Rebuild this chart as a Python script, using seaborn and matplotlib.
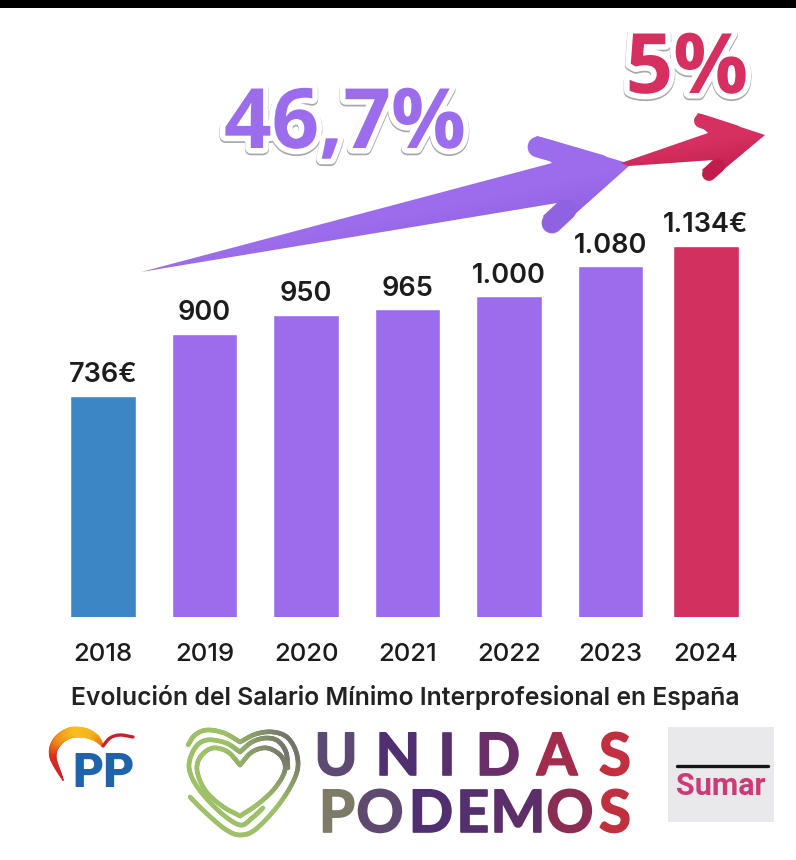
import matplotlib
matplotlib.use('Agg')
import matplotlib.pyplot as plt
import matplotlib.patheffects as pe
from matplotlib.patches import Polygon, Rectangle
import numpy as np
import seaborn as sns

# Salario minimo data
years = ['2018', '2019', '2020', '2021', '2022', '2023', '2024']
salary = [736, 900, 950, 965, 1000, 1080, 1134]
salary_labels = ['736€', '900', '950', '965', '1.000', '1.080', '1.134€']
bar_colors = ['#3d86c6', '#9b6ded', '#9b6ded', '#9b6ded', '#9b6ded', '#9b6ded', '#d2305e']
title = 'Evolución del Salario Mínimo Interprofesional en España'

PURPLE = '#9b6ded'
RED = '#d5305f'
W, H = 796, 860

sns.set_theme(style='white')
plt.rcParams['font.family'] = ['Inter', 'DejaVu Sans']

fig = plt.figure(figsize=(W / 100, H / 100), dpi=100, facecolor='white')

# Bars, placed so that the axis pixels line up with the picture
left, right, top, bottom = 52.25, 762.75, 200, 617
ax = fig.add_axes([left / W, 1 - bottom / H, (right - left) / W, (bottom - top) / H])
sns.barplot(x=years, y=salary, hue=years, palette=bar_colors, legend=False,
            width=0.645, saturation=1, ax=ax)
ax.set_xlim(-0.5, 6.5)
ax.set_ylim(146.4, 1256.4)
ax.patch.set_alpha(0)
sns.despine(ax=ax, left=True, bottom=True)
ax.set_yticks([])
ax.set_ylabel('')
ax.set_xlabel('')

# last bar sits a bit closer to its neighbour in the original
last_shift = -0.06
ax.patches[6].set_x(ax.patches[6].get_x() + last_shift)

for i, cont in enumerate(ax.containers):
    ax.bar_label(cont, labels=[salary_labels[i]], padding=5.5, fontsize=19.5,
                 fontweight='semibold', color='#1c1c1c')

ax.set_xticks([0, 1, 2, 3, 4, 5, 6 + last_shift])
ax.set_xticklabels(years, fontsize=18.5, fontweight='medium', color='#1c1c1c')
ax.tick_params(axis='x', length=0, pad=18.5)

# Everything else is drawn in pixel coordinates
ov = fig.add_axes([0, 0, 1, 1], zorder=5)
ov.set_xlim(0, W)
ov.set_ylim(H, 0)
ov.axis('off')
ov.patch.set_alpha(0)

ov.add_patch(Rectangle((0, 0), W, 8, color='black', lw=0))
ov.text(405, 697, title, ha='center', va='center', fontsize=17.8, fontweight='semibold',
        color='#222222')


def smooth(pts, n=14, closed=False):
    # catmull-rom through the given points
    p = np.array(pts, dtype=float)
    if closed:
        p = np.vstack([p[-1], p, p[0], p[1]])
    else:
        p = np.vstack([2 * p[0] - p[1], p, 2 * p[-1] - p[-2]])
    out = []
    for i in range(1, len(p) - 2):
        for t in np.linspace(0, 1, n, endpoint=False):
            out.append(0.5 * (2 * p[i] + (p[i + 1] - p[i - 1]) * t
                              + (2 * p[i - 1] - 5 * p[i] + 4 * p[i + 1] - p[i + 2]) * t ** 2
                              + (3 * p[i] - p[i - 1] - 3 * p[i + 1] + p[i + 2]) * t ** 3))
    out.append(p[-2])
    return np.array(out)


def shade(poly, p0, p1, depth, color, strength):
    # soft darker edge on one side of the line p0-p1, clipped to the arrow
    yy, xx = np.mgrid[0:H, 0:W]
    d = np.array(p1, dtype=float) - p0
    d = d / np.hypot(*d)
    dist = (xx - p0[0]) * (-d[1]) + (yy - p0[1]) * d[0]
    rgba = np.zeros((H, W, 4))
    rgba[..., :3] = matplotlib.colors.to_rgb(color)
    rgba[..., 3] = np.clip(dist / depth, 0, 1) * strength
    im = ov.imshow(rgba, extent=(0, W, H, 0), aspect='auto', interpolation='bilinear', zorder=3)
    im.set_clip_path(poly)
    ov.set_xlim(0, W)
    ov.set_ylim(H, 0)


# Arrows
purple_arrow = [(141, 272), (552, 163), (529, 142), (537, 136), (624, 162), (629, 166),
                (556, 231), (543, 216), (557, 203)]
purple_patch = Polygon(purple_arrow, closed=True, facecolor=PURPLE, edgecolor='none', zorder=2)
ov.add_patch(purple_patch)
ov.plot([538, 600], [147, 165], color=PURPLE, lw=15, solid_capstyle='round', zorder=2)
shade(purple_patch, (141, 272), (629, 166), 45, '#7a4bd0', 0.4)
ov.plot([552, 566], [223, 210], color='#8f62e2', lw=15, solid_capstyle='round', zorder=3.5)

red_arrow = [(621, 163), (708, 133), (694, 120), (698, 113), (765, 135), (711, 180), (702, 170),
             (713, 160), (628, 166)]
red_patch = Polygon(red_arrow, closed=True, facecolor=RED, edgecolor='none', zorder=2)
ov.add_patch(red_patch)
ov.plot([701, 735], [121, 132], color=RED, lw=10, solid_capstyle='round', zorder=2)
shade(red_patch, (640, 152), (765, 132), 40, '#b01040', 0.6)
ov.plot([709, 718], [174, 166], color='#c01c4c', lw=10, solid_capstyle='round', zorder=3.5)

# Big percentages with a sticker outline
sticker = [pe.Stroke(linewidth=8.5, foreground='#a8a8a8', offset=(0, -1)),
           pe.Stroke(linewidth=8, foreground='white'),
           pe.Normal()]
ov.text(345, 148, '46,7%', ha='center', va='baseline', fontsize=60, fontweight='bold',
        family='Open Sans', color=PURPLE, path_effects=sticker, zorder=4)
ov.text(687, 93, '5%', ha='center', va='baseline', fontsize=60, fontweight='bold',
        family='Open Sans', color=RED, path_effects=sticker, zorder=4)

# PP logo
arc = smooth([(63, 780), (53, 757), (57, 742), (70, 733), (85, 733), (96, 738), (103, 746)], n=8)
arc_col = sns.blend_palette(['#c8202c', '#d8301f', '#f0901c', '#f6c01c', '#f3b41c', '#e8701c'], len(arc) - 1)
for i in range(len(arc) - 1):
    width = 1 + 7 * np.sin(np.pi * (i + 0.5) / (len(arc) - 1)) ** 0.8
    ov.plot(arc[i:i + 2, 0], arc[i:i + 2, 1], color=arc_col[i], lw=width, solid_capstyle='round')
swoosh = smooth([(103, 746), (110, 738), (120, 735), (133, 737)], n=8)
ov.plot(swoosh[:, 0], swoosh[:, 1], color='#c8202c', lw=2.4, solid_capstyle='round')
ov.text(103.5, 787, 'PP', ha='center', va='baseline', fontsize=34.5, fontweight='black',
        family='Roboto', color='#1f63ad')

# Heart logo, each ring is split at the dip so that the dip stays a V
outer_a = [(190, 797), (205, 812), (225, 829), (240, 835), (256, 829), (280, 803), (296, 775),
           (297, 755), (288, 738), (273, 732), (256, 734), (240, 742)]
outer_b = [(240, 742), (224, 733), (207, 730), (195, 735), (188, 745)]
middle_a = [(288, 768), (286, 752), (278, 741), (266, 738), (252, 742), (240, 752)]
middle_b = [(240, 752), (226, 743), (207, 740), (195, 748), (189, 767), (198, 788), (220, 812),
            (240, 825), (252, 818), (263, 808)]
inner_a = [(240, 765), (228, 752), (213, 748), (201, 756), (197, 770), (205, 790), (222, 806),
           (240, 816)]
inner_b = [(240, 816), (258, 804), (275, 788), (285, 770), (281, 756), (267, 748), (252, 752),
           (240, 765)]
heart_paths = [smooth(p) for p in [outer_a, outer_b, middle_a, middle_b, inner_a, inner_b]]
GREEN = np.array(matplotlib.colors.to_rgb('#9dc068'))
GREY = np.array(matplotlib.colors.to_rgb('#74736c'))
for hp in heart_paths:
    for i in range(len(hp) - 1):
        x, y = hp[i]
        mix = np.clip((x - 225) / 60, 0, 1) * np.clip((805 - y) / 50, 0, 1)
        ov.plot(hp[i:i + 2, 0], hp[i:i + 2, 1], color=GREEN * (1 - mix) + GREY * mix, lw=3.3,
                solid_capstyle='round')

# Unidas Podemos wordmark
upper = ['U', 'N', 'I', 'D', 'A', 'S']
upper_x = [336, 398, 447, 498, 557, 615]
upper_col = ['#5d4a72', '#4f2f70', '#5a2f70', '#6a2f68', '#a32c4c', '#c22f40']
lower = ['P', 'O', 'D', 'E', 'M', 'O', 'S']
lower_x = [337, 380, 431, 473, 518, 570, 615]
lower_col = ['#7d7a68', '#5f4a6f', '#4f2f70', '#55306f', '#5c2f6a', '#8a2d55', '#c0303f']
round_edge = [pe.Stroke(linewidth=1.2, joinstyle='round'), pe.Normal()]
for ch, x, c in zip(upper, upper_x, upper_col):
    ov.text(x, 775, ch, ha='center', va='baseline', fontsize=42, fontweight='bold',
            family='Lato', color=c, path_effects=round_edge)
for ch, x, c in zip(lower, lower_x, lower_col):
    ov.text(x, 832, ch, ha='center', va='baseline', fontsize=42, fontweight='bold',
            family='Lato', color=c, path_effects=round_edge)

# Sumar logo
ov.add_patch(Rectangle((668, 727), 106, 95, color='#e9e9eb', lw=0))
ov.plot([677, 768], [766, 766], color='#151515', lw=2.4)
ov.text(721, 795, 'Sumar', ha='center', va='baseline', fontsize=22, fontweight='bold',
        family='Roboto', color='#cc3a78')

fig.savefig('out.png', dpi=100, facecolor='white')
